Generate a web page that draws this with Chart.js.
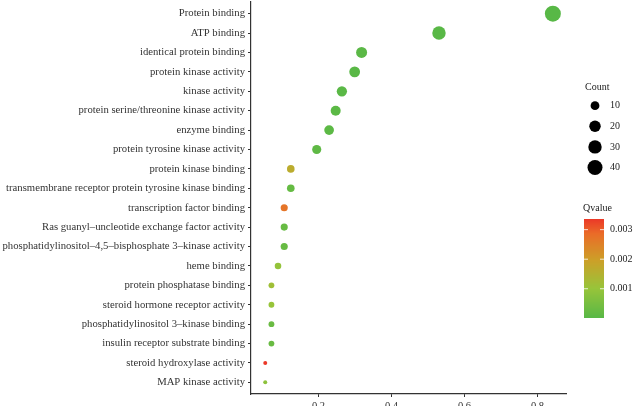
<!DOCTYPE html>
<html>
<head>
<meta charset="utf-8">
<script src="https://cdn.jsdelivr.net/npm/chart.js@4/dist/chart.umd.min.js"></script>
<style>
  html, body { margin: 0; padding: 0; background: #fff; overflow: hidden; }
  #wrap { width: 633px; height: 425px; }
</style>
</head>
<body>
<div id="wrap"><canvas id="grafica" width="633" height="425"></canvas></div>
<script>
// terminos GO (funcion molecular), de arriba hacia abajo
var terminos = [
  'Protein binding',
  'ATP binding',
  'identical protein binding',
  'protein kinase activity',
  'kinase activity',
  'protein serine/threonine kinase activity',
  'enzyme binding',
  'protein tyrosine kinase activity',
  'protein kinase binding',
  'transmembrane receptor protein tyrosine kinase binding',
  'transcription factor binding',
  'Ras guanyl–uncleotide exchange factor activity',
  'phosphatidylinositol–4,5–bisphosphate 3–kinase activity',
  'heme binding',
  'protein phosphatase binding',
  'steroid hormone receptor activity',
  'phosphatidylinositol 3–kinase binding',
  'insulin receptor substrate binding',
  'steroid hydroxylase activity',
  'MAP kinase activity'
];
var geneRatio = [0.842, 0.530, 0.318, 0.299, 0.264, 0.247, 0.229, 0.195, 0.124, 0.124,
                 0.106, 0.106, 0.106, 0.089, 0.071, 0.071, 0.071, 0.071, 0.054, 0.054];
var cuenta = [47, 30, 18, 17, 15, 14, 13, 11, 7, 7, 6, 6, 6, 5, 4, 4, 4, 4, 3, 3];
var qvalue = [0.00001, 0.00002, 0.00005, 0.00003, 0.00004, 0.00006, 0.00008, 0.00012, 0.00165, 0.00022,
              0.00270, 0.00025, 0.00024, 0.00095, 0.00115, 0.00100, 0.00030, 0.00028, 0.00336, 0.00085];

var cuentaLeyenda = [10, 20, 30, 40];
var qTicks = [0.001, 0.002, 0.003];
var xTicks = [0.2, 0.4, 0.6, 0.8];

var fuente = '"Liberation Serif", "DejaVu Serif", serif';
// paradas de la barra de color (posicion relativa, rgb)
var paradas = [
  [0.00, [88, 184, 70]],
  [0.30, [152, 196, 58]],
  [0.58, [204, 160, 40]],
  [0.85, [234, 108, 40]],
  [1.00, [235, 56, 40]]
];

// escala de tamano (area)
var cMin = Math.min.apply(null, cuenta), cMax = Math.max.apply(null, cuenta);
function radio(c) {
  return 2 + 6 * Math.sqrt((c - cMin) / (cMax - cMin));
}

var qMin = Math.min.apply(null, qvalue), qMax = Math.max.apply(null, qvalue);
function colorQ(q) {
  var t = Math.max(0, Math.min(1, (q - qMin) / (qMax - qMin)));
  for (var k = 1; k < paradas.length; k++) {
    if (t <= paradas[k][0]) break;
  }
  k = Math.min(k, paradas.length - 1);
  var a = paradas[k - 1], b = paradas[k];
  var f = (t - a[0]) / (b[0] - a[0]);
  var c = [0, 1, 2].map(function(i) { return Math.round(a[1][i] + (b[1][i] - a[1][i]) * f); });
  return 'rgb(' + c[0] + ',' + c[1] + ',' + c[2] + ')';
}

var puntos = [], colores = [];
for (var i = 0; i < terminos.length; i++) {
  puntos.push({ x: geneRatio[i], y: i, r: radio(cuenta[i]) });
  colores.push(colorQ(qvalue[i]));
}

// leyendas de Count y Qvalue a la derecha
var leyendas = {
  id: 'leyendas',
  afterDraw: function(chart) {
    var ctx = chart.ctx;
    ctx.save();
    ctx.fillStyle = '#222';
    ctx.font = '10px ' + fuente;
    ctx.textBaseline = 'middle';
    ctx.textAlign = 'left';
    ctx.fillText('Count', 585, 87);
    cuentaLeyenda.forEach(function(c, k) {
      var y = 105.7 + k * 20.6;
      ctx.fillStyle = '#000';
      ctx.beginPath();
      ctx.arc(595, y, radio(c), 0, Math.PI * 2);
      ctx.fill();
      ctx.fillStyle = '#222';
      ctx.fillText(String(c), 610, y);
    });

    ctx.fillText('Qvalue', 583, 208);
    var x0 = 584, ancho = 20, top = 219, bottom = 318;
    for (var y = top; y < bottom; y++) {
      var q = qMax - (y + 0.5 - top) / (bottom - top) * (qMax - qMin);
      ctx.fillStyle = colorQ(q);
      ctx.fillRect(x0, y, ancho, 1);
    }
    qTicks.forEach(function(q) {
      var y = bottom - (q - qMin) / (qMax - qMin) * (bottom - top);
      ctx.fillStyle = 'rgba(255,255,255,0.8)';
      ctx.fillRect(x0, y - 0.5, 4, 1);
      ctx.fillRect(x0 + ancho - 4, y - 0.5, 4, 1);
      ctx.fillStyle = '#222';
      ctx.fillText(q.toFixed(3), 610, y);
    });
    ctx.restore();
  }
};

var myChart = new Chart(document.getElementById('grafica'), {
  type: 'bubble',
  data: {
    datasets: [{
      data: puntos,
      backgroundColor: colores,
      borderWidth: 0,
      hoverBorderWidth: 0
    }]
  },
  options: {
    responsive: false,
    animation: false,
    layout: { autoPadding: false, padding: { left: 0, right: 67, top: 2, bottom: 0 } },
    plugins: {
      legend: { display: false },
      tooltip: { enabled: false }
    },
    scales: {
      x: {
        type: 'linear',
        min: 0.015,
        max: 0.878,
        afterBuildTicks: function(scale) {
          scale.ticks = xTicks.map(function(v) { return { value: v }; });
        },
        afterFit: function(scale) {
          scale.height = 31;
          scale.paddingLeft = 0;
          scale.paddingRight = 0;
        },
        grid: { drawOnChartArea: false, tickLength: 3, tickColor: '#333', tickWidth: 1 },
        border: { display: true, color: '#333', width: 1.2 },
        ticks: {
          padding: 3,
          color: '#333',
          font: { family: fuente, size: 10.5 },
          callback: function(v) { return String(v); }
        }
      },
      y: {
        type: 'linear',
        min: -0.6,
        max: 19.6,
        reverse: true,
        afterBuildTicks: function(scale) {
          scale.ticks = terminos.map(function(t, i) { return { value: i }; });
        },
        afterFit: function(scale) {
          scale.width = 251;
          scale.paddingTop = 0;
          scale.paddingBottom = 0;
        },
        grid: { drawOnChartArea: false, tickLength: 3, tickColor: '#333', tickWidth: 1 },
        border: { display: true, color: '#333', width: 1.2 },
        ticks: {
          autoSkip: false,
          padding: 3,
          color: '#333',
          font: { family: fuente, size: 10.7 },
          callback: function(v) { return terminos[v]; }
        }
      }
    }
  },
  plugins: [leyendas]
});
</script>
</body>
</html>
